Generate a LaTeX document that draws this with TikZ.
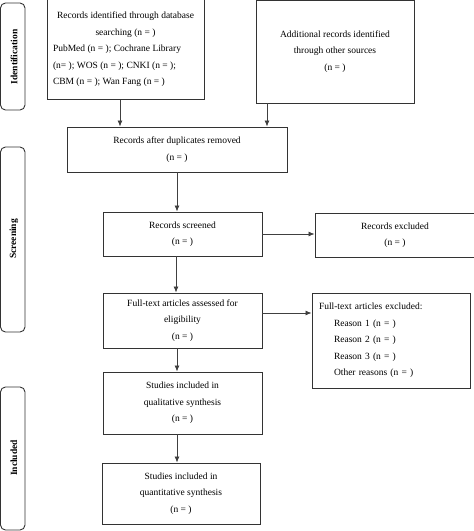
\documentclass[tikz,border=0pt]{standalone}
\usepackage{fontspec}
\setmainfont{Liberation Serif}
\usetikzlibrary{arrows.meta}

\begin{document}
\begin{tikzpicture}[x=1pt, y=-1pt,
        box/.style={draw=black!80, line width=0.9pt, rectangle, inner sep=0pt, font=\fontsize{9.5}{16.5}\selectfont, align=center},
        phase/.style={draw=black!80, line width=0.9pt, rounded corners=5pt},
        phaselabel/.style={rotate=90, font=\fontsize{9.5}{10}\selectfont\bfseries},
        flow/.style={draw=black!75, line width=0.8pt, -{Latex[length=6pt, width=5pt]}}]
        \useasboundingbox (0,0) rectangle (474,531);

        \draw[phase] (0.5,3) rectangle (25,110);
        \draw[phase] (0.5,147) rectangle (25,332);
        \draw[phase] (0.5,387) rectangle (25,530);
        \node[phaselabel] (idlab) at (14,57) {Identification};
        \node[phaselabel] (scrlab) at (14,239) {Screening};
        \node[phaselabel] (inclab) at (14,458) {Included};

        \node[box, minimum width=157pt, minimum height=100pt, text width=145pt, align=none] (A) at (125.5,49.5)
            {{\centering Records identified through database\\searching (n = )\par}\raggedright PubMed (n = ); Cochrane Library\\(n= ); WOS (n = ); CNKI (n = );\\CBM (n = ); Wan Fang (n = )};
        \node[box, minimum width=158pt, minimum height=103pt] (B) at (335,51.5)
            {Additional records identified\\through other sources\\(n = )};
        \node[box, minimum width=220pt, minimum height=45pt] (C) at (177,149.5)
            {Records after duplicates removed\\(n = )};
        \node[box, minimum width=159pt, minimum height=44pt] (D) at (182.5,234)
            {Records screened\\(n = )};
        \node[box, minimum width=160pt, minimum height=44pt] (E) at (395,235)
            {Records excluded\\(n = )};
        \node[box, minimum width=159pt, minimum height=55pt] (F) at (182.5,320.5)
            {Full-text articles assessed for\\eligibility\\(n = )};
        \node[box, minimum width=158pt, minimum height=95pt, text width=144pt, align=left] (G) at (391,340.5)
            {Full-text articles excluded:\\\hspace*{15pt}Reason 1 (n = )\\\hspace*{15pt}Reason 2 (n = )\\\hspace*{15pt}Reason 3 (n = )\\\hspace*{15pt}Other reasons (n = )};
        \node[box, minimum width=159pt, minimum height=62pt] (H) at (182.5,403)
            {Studies included in\\qualitative synthesis\\(n = )};
        \node[box, minimum width=158pt, minimum height=61pt] (I) at (181,493.5)
            {Studies included in\\quantitative synthesis\\(n = )};

        \draw[flow] ([xshift=-5.5pt]A.south) -- ([xshift=-5.5pt]A.south |- C.north);
        \draw[flow] ([xshift=-68pt]B.south) -- ([xshift=-68pt]B.south |- C.north);
        \draw[flow] (C.south) -- (C.south |- D.north);
        \draw[flow] (D.east) -- (D.east -| E.west);
        \draw[flow] ([xshift=-6.5pt]D.south) -- ([xshift=-6.5pt]D.south |- F.north);
        \draw[flow] ([yshift=7.5pt]F.east) -- ([yshift=7.5pt]F.east -| G.west);
        \draw[flow] ([xshift=-5.5pt]F.south) -- ([xshift=-5.5pt]F.south |- H.north);
        \draw[flow] ([xshift=-5.5pt]H.south) -- ([xshift=-5.5pt]H.south |- I.north);
    \end{tikzpicture}
\end{document}
